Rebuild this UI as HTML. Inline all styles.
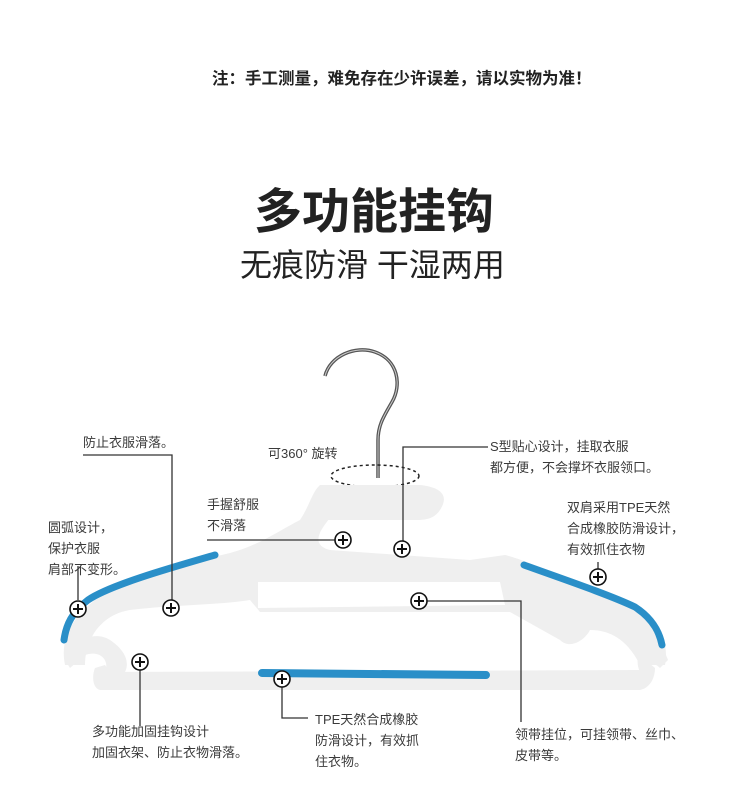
<!DOCTYPE html>
<html><head><meta charset="utf-8"><style>
body{margin:0;width:750px;height:799px;background:#fff;overflow:hidden;position:relative;font-family:"Liberation Sans","Noto Sans CJK SC",sans-serif;}
.t{position:absolute;white-space:nowrap;color:#3a3a3a;font-size:13px;line-height:21px;}
</style></head><body>
<div class="t" style="left:212px;top:68px;font-size:16.5px;line-height:22px;font-weight:bold;color:#222;">注：手工测量，难免存在少许误差，请以实物为准！</div>
<div class="t" style="left:254px;top:184px;font-size:48px;line-height:58px;font-weight:bold;color:#222;">多功能挂钩</div>
<div class="t" style="left:240px;top:245px;font-size:32px;line-height:40px;color:#222;">无痕防滑 干湿两用</div>

<svg width="750" height="799" style="position:absolute;left:0;top:0">
<path d="M325,376 C330,356 355,345 375,352 C398,360 402,385 392,402 C384,416 378,425 378,440 L378,478" fill="none" stroke="#555" stroke-width="3.5"/>
<path d="M325,376 C330,356 355,345 375,352 C398,360 402,385 392,402 C384,416 378,425 378,440 L378,478" fill="none" stroke="#ccc" stroke-width="1"/>
<ellipse cx="375" cy="476" rx="44" ry="11" fill="none" stroke="#222" stroke-width="1.5" stroke-dasharray="3,3"/>
<g fill="#efefef">
<path d="M320,485 L420,485 C440,487 450,495 440,510 C432,522 420,520 400,520 L300,520 C310,505 312,492 320,485Z"/>
<path d="M300,520 L330,518 C320,530 310,545 330,550 L470,560 L505,555 C520,558 600,590 640,610 C665,625 668,650 665,665 L640,665 C630,645 615,630 590,630 C585,640 570,650 560,640 L510,612 L260,612 L250,600 C220,605 170,605 130,610 C100,615 85,640 85,665 L65,665 C60,640 70,620 95,600 C140,575 200,560 230,553 C260,545 280,530 300,520Z"/>
<path d="M95,668 L105,665 L110,672 L640,670 L648,662 L655,668 C655,678 650,688 640,690 L100,690 C92,688 92,675 95,668Z"/>
<path d="M65,660 C70,640 95,630 110,640 C125,650 130,662 125,672 L105,672 C110,660 100,650 85,655 L70,668Z"/>
<path d="M640,672 C632,655 645,640 662,645 L668,660 L660,668 C652,660 645,665 648,672Z"/>
</g>
<path d="M258,582 L500,582 L505,605 L258,608Z" fill="#fff"/>
<path d="M330,520 L440,520 L470,552 L340,548Z" fill="#fff" opacity="0.9"/>
<path d="M215,555 C170,568 110,585 88,600 C72,612 66,625 64,640" fill="none" stroke="#2a8fc8" stroke-width="7" stroke-linecap="round"/>
<path d="M524,565 C560,578 610,595 635,607 C655,620 660,635 662,645" fill="none" stroke="#2a8fc8" stroke-width="7" stroke-linecap="round"/>
<path d="M262,673 L486,675" stroke="#2a8fc8" stroke-width="8" stroke-linecap="round"/>
<g stroke="#333" stroke-width="1.3" fill="none">
<polyline points="83,455 172,455 172,600"/>
<polyline points="78,566 78,600"/>
<polyline points="207,540 335,540"/>
<polyline points="488,447 403,447 403,541"/>
<polyline points="598,562 598,570"/>
<polyline points="427,601 521,601 521,722"/>
<polyline points="140,670 140,726"/>
<polyline points="282,687 282,718 308,718"/>
</g>
<g stroke="#111" stroke-width="1.6" fill="#fff">
<circle cx="78" cy="609" r="8"/><circle cx="171" cy="608" r="8"/><circle cx="343" cy="540" r="8"/>
<circle cx="402" cy="549" r="8"/><circle cx="419" cy="601" r="8"/><circle cx="598" cy="577" r="8"/>
<circle cx="140" cy="662" r="8"/><circle cx="282" cy="679" r="8"/>
</g>
<g stroke="#111" stroke-width="2">
<path d="M73,609h10M78,604v10M166,608h10M171,603v10M338,540h10M343,535v10M397,549h10M402,544v10M414,601h10M419,596v10M593,577h10M598,572v10M135,662h10M140,657v10M277,679h10M282,674v10"/>
</g>
</svg>

<div class="t" style="left:83px;top:432px;">防止衣服滑落。</div>
<div class="t" style="left:268px;top:443px;">可360° 旋转</div>
<div class="t" style="left:490px;top:436px;">S型贴心设计，挂取衣服<br>都方便，不会撑坏衣服领口。</div>
<div class="t" style="left:207px;top:494px;">手握舒服<br>不滑落</div>
<div class="t" style="left:48px;top:517px;">圆弧设计，<br>保护衣服<br>肩部不变形。</div>
<div class="t" style="left:567px;top:497px;">双肩采用TPE天然<br>合成橡胶防滑设计，<br>有效抓住衣物</div>
<div class="t" style="left:92px;top:721px;">多功能加固挂钩设计<br>加固衣架、防止衣物滑落。</div>
<div class="t" style="left:315px;top:709px;">TPE天然合成橡胶<br>防滑设计，有效抓<br>住衣物。</div>
<div class="t" style="left:515px;top:724px;">领带挂位，可挂领带、丝巾、<br>皮带等。</div>
</body></html>
